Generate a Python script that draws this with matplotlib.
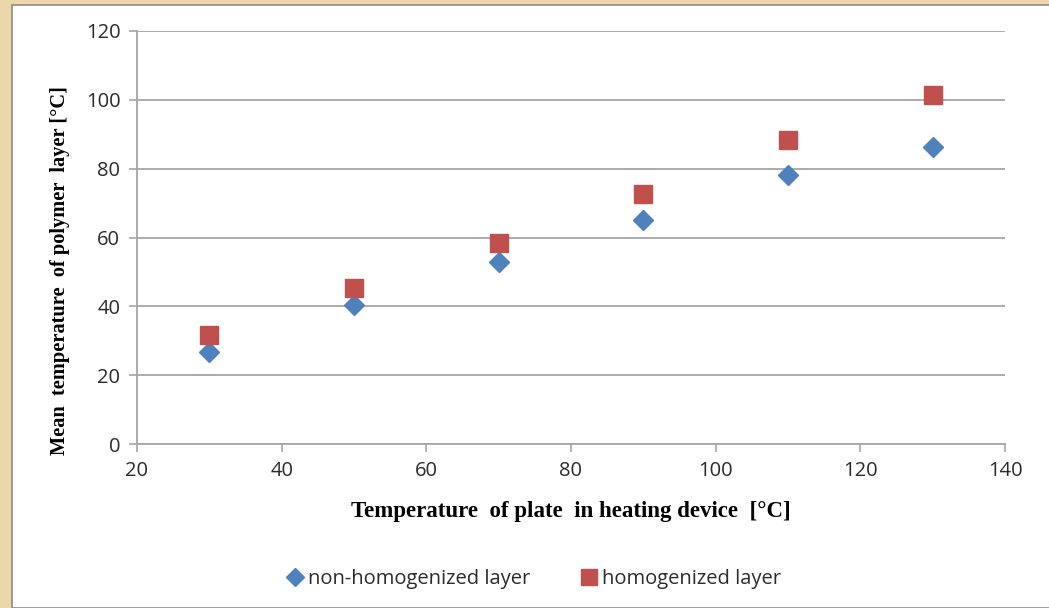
import matplotlib
matplotlib.use("Agg")
import matplotlib.pyplot as plt
from matplotlib.patches import Rectangle

#data-----------------
plate_temp = [30, 50, 70, 90, 110, 130]
non_homog = [26.7, 40.4, 52.9, 65.1, 78.2, 86.3]
homog = [31.7, 45.3, 58.4, 72.7, 88.4, 101.5]
x_ticks = [20, 40, 60, 80, 100, 120, 140]
y_ticks = [0, 20, 40, 60, 80, 100, 120]
#---------------------

W, H = 1049, 608
fig = plt.figure(figsize=(W / 100, H / 100), dpi=100, facecolor="#ead7aa")

# white chart panel on parchment
fig.patches.append(Rectangle((12 / W, 0), 1 - 12 / W + 0.01, 1 - 5 / H,
                             transform=fig.transFigure, facecolor="white",
                             edgecolor="#8c8c8c", linewidth=1.2, zorder=-10))

ax = fig.add_axes([137 / W, 1 - 444 / H, (1005 - 137) / W, (444 - 31) / H])
ax.set_facecolor("none")

grid_col = "#a6a6a6"
ax.plot(plate_temp, non_homog, linestyle="none", marker="D", ms=10,
        color="#4f81bd", label="non-homogenized layer", zorder=3)
ax.plot(plate_temp, homog, linestyle="none", marker="s", ms=13,
        color="#c0504d", label="homogenized layer", zorder=3)

ax.set_xlim(20, 140)
ax.set_ylim(0, 120)
ax.set_xticks(x_ticks)
ax.set_yticks(y_ticks)
ax.yaxis.grid(True, color=grid_col, linewidth=1.3)
ax.set_axisbelow(True)

for s in ["top", "right"]:
    ax.spines[s].set_visible(False)
for s in ["left", "bottom"]:
    ax.spines[s].set_color(grid_col)
    ax.spines[s].set_linewidth(1.3)

ax.tick_params(axis="both", direction="out", length=6, width=1.2,
               color=grid_col, labelsize=14.5, labelcolor="#2b2b2b")
for lab in ax.get_xticklabels() + ax.get_yticklabels():
    lab.set_family("Open Sans")
ax.tick_params(axis="x", pad=6)
ax.tick_params(axis="y", pad=6)

ax.set_xlabel("Temperature  of plate  in heating device  [°C]",
              family="Liberation Serif", weight="bold", fontsize=16.5, labelpad=15)
ax.set_ylabel("Mean  temperature  of polymer  layer [°C]",
              family="Liberation Serif", weight="bold", fontsize=14.7)
ax.yaxis.set_label_coords(-0.077, 0.42)

ax.legend(loc="upper center", bbox_to_anchor=(0.456, -0.258), ncol=2, frameon=False,
          prop={"family": "Open Sans", "size": 14.5}, handletextpad=0.15,
          columnspacing=2.4, handlelength=1.0, markerscale=0.87,
          labelcolor="#2b2b2b")

fig.savefig("out.png", dpi=100, facecolor=fig.get_facecolor())
